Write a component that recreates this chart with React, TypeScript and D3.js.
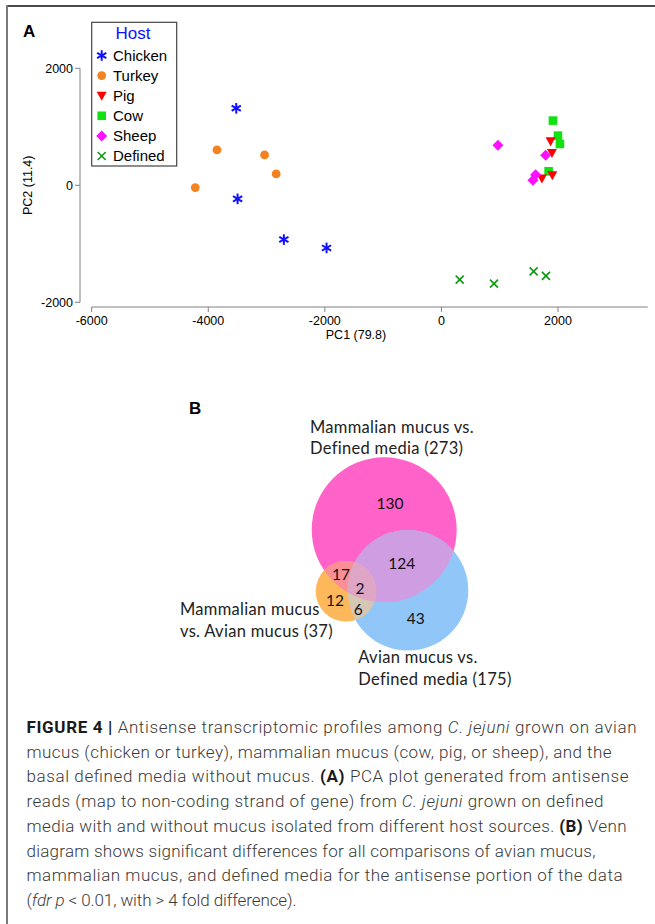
import React from "react";
import * as d3 from "d3";

// ---------- Panel A data (PCA) ----------
const hosts = ["Chicken", "Turkey", "Pig", "Cow", "Sheep", "Defined"];
const hostColors = ["#1010ff", "#f58220", "#ff0000", "#11e011", "#ff10ff", "#159a15"];
const chickenPts: [number, number][] = [[-3520, 1316], [-3497, -232], [-2703, -928], [-1971, -1070]];
const turkeyPts: [number, number][] = [[-4223, -39], [-3851, 605], [-3034, 520], [-2835, 195]];
const pigPts: [number, number][] = [[1873, 752], [1896, 554], [1724, 115], [1903, 171]];
const cowPts: [number, number][] = [[1913, 1106], [1999, 849], [2033, 707], [1839, 239]];
const sheepPts: [number, number][] = [[970, 684], [1788, 513], [1616, 180], [1570, 85]];
const definedPts: [number, number][] = [[314, -1612], [902, -1680], [1582, -1470], [1793, -1548]];
const xTicks = [-6000, -4000, -2000, 0, 2000];
const yTicks = [-2000, 0, 2000];
const xAxisEnd = 3540;

// ---------- Panel B data (Venn) ----------
const vennTotals = [273, 175, 37];
const vennCounts = { mOnly: 130, mb: 124, bOnly: 43, mo: 17, oOnly: 12, all: 2, ob: 6 };

// ---------- Caption ----------
type Seg = { t: string; b?: boolean; i?: boolean };
const captionLines: Seg[][] = [
  [{ t: "FIGURE 4 |", b: true }, { t: " Antisense transcriptomic profiles among " }, { t: "C. jejuni", i: true }, { t: " grown on avian" }],
  [{ t: "mucus (chicken or turkey), mammalian mucus (cow, pig, or sheep), and the" }],
  [{ t: "basal defined media without mucus. " }, { t: "(A)", b: true }, { t: " PCA plot generated from antisense" }],
  [{ t: "reads (map to non-coding strand of gene) from " }, { t: "C. jejuni", i: true }, { t: " grown on defined" }],
  [{ t: "media with and without mucus isolated from different host sources. " }, { t: "(B)", b: true }, { t: " Venn" }],
  [{ t: "diagram shows significant differences for all comparisons of avian mucus," }],
  [{ t: "mammalian mucus, and defined media for the antisense portion of the data" }],
  [{ t: "(" }, { t: "fdr p", i: true }, { t: " < 0.01, with > 4 fold difference)." }],
];
const captionLineWidths = [610, 585, 602, 577, 600, 569, 596, 270];

const W = 655, H = 924;

function Marker({ kind, x, y, color }: { kind: number; x: number; y: number; color: string }) {
  const s = 5.3;
  switch (kind) {
    case 0: {
      const lines = [90, 30, 150].map((a) => {
        const r = (a * Math.PI) / 180;
        return <line key={a} x1={x - s * Math.cos(r)} y1={y - s * Math.sin(r)} x2={x + s * Math.cos(r)} y2={y + s * Math.sin(r)} stroke={color} strokeWidth={2} />;
      });
      return <g>{lines}</g>;
    }
    case 1:
      return <circle cx={x} cy={y} r={4.4} fill={color} />;
    case 2:
      return <path d={`M${x - 5},${y - 4}L${x + 5},${y - 4}L${x},${y + 5}Z`} fill={color} />;
    case 3:
      return <rect x={x - 4.3} y={y - 4.3} width={8.6} height={8.6} fill={color} />;
    case 4:
      return <path d={`M${x},${y - 5.5}L${x + 5.5},${y}L${x},${y + 5.5}L${x - 5.5},${y}Z`} fill={color} />;
    default:
      return (
        <g stroke={color} strokeWidth={1.7}>
          <line x1={x - 4} y1={y - 4} x2={x + 4} y2={y + 4} />
          <line x1={x - 4} y1={y + 4} x2={x + 4} y2={y - 4} />
        </g>
      );
  }
}

export default function App() {
  const x = d3.scaleLinear().domain([-6000, 2000]).range([91.7, 558]);
  const y = d3.scaleLinear().domain([-2000, 2000]).range([302.3, 68.3]);
  const axisY = 307;
  const axisX = 80;
  const allSeries = [chickenPts, turkeyPts, pigPts, cowPts, sheepPts, definedPts];
  const drawOrder = [0, 1, 3, 2, 4, 5];
  const plotFont = "'Liberation Sans', Arial, sans-serif";

  // Venn geometry
  const vm = { cx: 384.2, cy: 529.8, r: 72.5 };
  const vb = { cx: 408, cy: 590.3, r: 60.3 };
  const vo = { cx: 346, cy: 591.3, r: 30.3 };
  const vennFont = "Lato, 'Open Sans', sans-serif";

  return (
    <svg width={W} height={H} style={{ position: "absolute", left: 0, top: 0, background: "#fff" }}>
      <defs>
        <clipPath id="clipM"><circle cx={vm.cx} cy={vm.cy} r={vm.r} /></clipPath>
        <clipPath id="clipB"><circle cx={vb.cx} cy={vb.cy} r={vb.r} /></clipPath>
      </defs>
      <rect x={0} y={0} width={W} height={H} fill="#fff" />
      {/* frame */}
      <line x1={7} y1={6} x2={W} y2={6} stroke="#4a4a4a" strokeWidth={2} />
      <line x1={7} y1={5} x2={7} y2={H} stroke="#7a7a7a" strokeWidth={2} />

      {/* Panel A */}
      <text x={23} y={37} fontFamily={plotFont} fontWeight="bold" fontSize={17}>A</text>
      {/* y axis */}
      <line x1={axisX} x2={axisX} y1={y(2000)} y2={y(-2000)} stroke="#808080" strokeWidth={1} />
      {yTicks.map((t) => (
        <g key={t}>
          <line x1={axisX - 5} x2={axisX} y1={y(t)} y2={y(t)} stroke="#808080" />
          <text x={axisX - 7} y={y(t)} dy="0.35em" textAnchor="end" fontFamily={plotFont} fontSize={12.5}>{t}</text>
        </g>
      ))}
      <text transform={`translate(32,${y(0)}) rotate(-90)`} textAnchor="middle" fontFamily={plotFont} fontSize={12.5}>PC2 (11.4)</text>
      {/* x axis */}
      <line x1={x(-6000)} x2={x(xAxisEnd)} y1={axisY} y2={axisY} stroke="#808080" strokeWidth={1} />
      {xTicks.map((t) => (
        <g key={t}>
          <line x1={x(t)} x2={x(t)} y1={axisY} y2={axisY + 5} stroke="#808080" />
          <text x={x(t)} y={axisY + 18} textAnchor="middle" fontFamily={plotFont} fontSize={12.5}>{t}</text>
        </g>
      ))}
      <text x={356} y={339} textAnchor="middle" fontFamily={plotFont} fontSize={12.5}>PC1 (79.8)</text>

      {/* points */}
      {drawOrder.map((si) => (
        <g key={si}>
          {allSeries[si].map((p, k) => (
            <Marker key={k} kind={si} x={x(p[0])} y={y(p[1])} color={hostColors[si]} />
          ))}
        </g>
      ))}

      {/* legend */}
      <rect x={91.7} y={22.3} width={85} height={143.7} fill="#fff" stroke="#444" strokeWidth={1.2} />
      <text x={133} y={39} textAnchor="middle" fontFamily={plotFont} fontSize={17} fill="#1010ff">Host</text>
      {hosts.map((h, i) => (
        <g key={h}>
          <Marker kind={i} x={101.7} y={55.5 + i * 20.1} color={hostColors[i]} />
          <text x={113} y={55.5 + i * 20.1} dy="0.36em" fontFamily={plotFont} fontSize={15}>{h}</text>
        </g>
      ))}

      {/* Panel B */}
      <text x={189} y={414} fontFamily={plotFont} fontWeight="bold" fontSize={17}>B</text>
      <circle cx={vm.cx} cy={vm.cy} r={vm.r} fill="#ff62c8" />
      <circle cx={vb.cx} cy={vb.cy} r={vb.r} fill="#90c7f8" />
      <circle cx={vo.cx} cy={vo.cy} r={vo.r} fill="#fcb85a" />
      <g clipPath="url(#clipM)">
        <circle cx={vb.cx} cy={vb.cy} r={vb.r} fill="#cf9de1" />
        <circle cx={vo.cx} cy={vo.cy} r={vo.r} fill="#fa8f98" />
      </g>
      <g clipPath="url(#clipB)">
        <circle cx={vo.cx} cy={vo.cy} r={vo.r} fill="#d6c6b4" />
        <g clipPath="url(#clipM)">
          <circle cx={vo.cx} cy={vo.cy} r={vo.r} fill="#dea6c4" />
        </g>
      </g>
      <g fontFamily={vennFont} fontSize={15.5} fill="#111" textAnchor="middle">
        <text x={390} y={503.3} dy="0.35em">{vennCounts.mOnly}</text>
        <text x={401.7} y={563.3} dy="0.35em">{vennCounts.mb}</text>
        <text x={341} y={575} dy="0.35em">{vennCounts.mo}</text>
        <text x={360} y={588.3} dy="0.35em">{vennCounts.all}</text>
        <text x={335} y={600.7} dy="0.35em">{vennCounts.oOnly}</text>
        <text x={358.3} y={610} dy="0.35em">{vennCounts.ob}</text>
        <text x={415.7} y={619} dy="0.35em">{vennCounts.bOnly}</text>
      </g>
      <g fontFamily={vennFont} fontSize={16.5} fill="#222" letterSpacing={0.3} style={{ whiteSpace: "pre" }}>
        <text x={310} y={433}>{"Mammalian mucus vs."}</text>
        <text x={310} y={454}>{`Defined media (${vennTotals[0]})`}</text>
        <text x={358.3} y={663.3}>{"Avian mucus  vs."}</text>
        <text x={358.3} y={685}>{`Defined media (${vennTotals[1]})`}</text>
        <text x={180} y={615}>{"Mammalian mucus"}</text>
        <text x={180} y={636.7}>{`vs. Avian mucus (${vennTotals[2]})`}</text>
      </g>

      {/* caption */}
      <g fontFamily="Roboto, 'Liberation Sans', sans-serif" fontSize={17} fill="#3a3a3a" fontWeight={300}>
        {captionLines.map((line, li) => (
          <text key={li} x={26.5} y={733 + li * 24.7} textLength={captionLineWidths[li]} lengthAdjust="spacing" style={{ whiteSpace: "pre" }}>
            {line.map((s, si) => (
              <tspan key={si} fontWeight={s.b ? 700 : 300} fontStyle={s.i ? "italic" : "normal"} fill={s.b ? "#1a1a1a" : "#3a3a3a"}>{s.t}</tspan>
            ))}
          </text>
        ))}
      </g>
    </svg>
  );
}
